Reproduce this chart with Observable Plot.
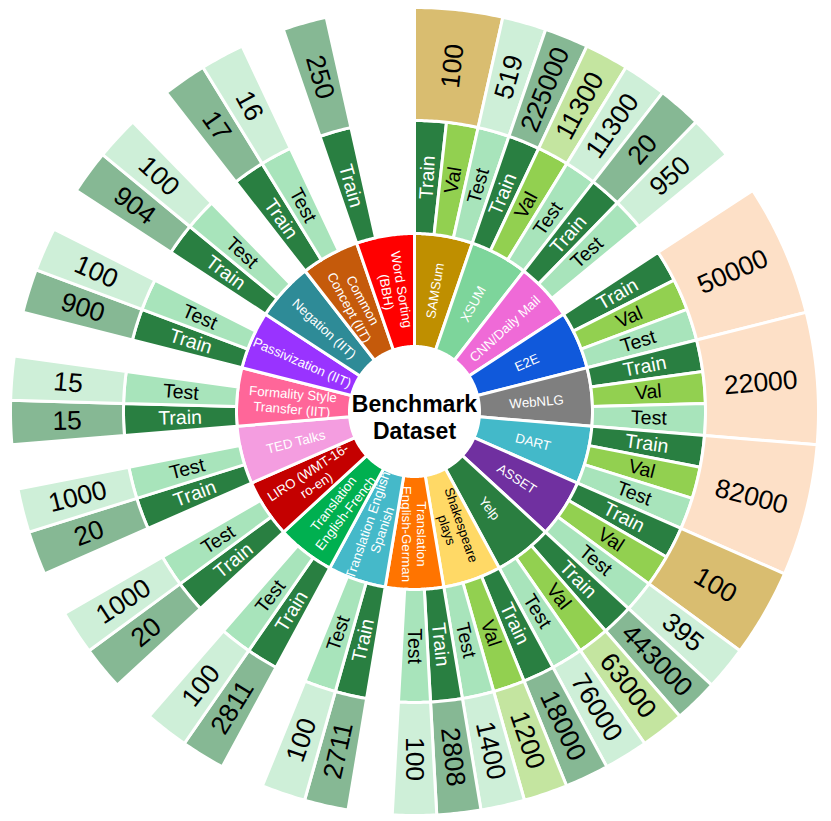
<!DOCTYPE html>
<html>
<head>
<meta charset="utf-8">
<script src="https://cdn.jsdelivr.net/npm/d3@7"></script>
<script src="https://cdn.jsdelivr.net/npm/@observablehq/plot@0.6"></script>
<style>
  html, body { margin: 0; padding: 0; background: #ffffff; }
  #chart svg { display: block; }
</style>
</head>
<body>
<div id="chart"></div>
<script>
// ---------------- data ----------------
const rootLabel = "Benchmark\nDataset";

const datasets = [
  "SAMSum", "XSUM", "CNN/Daily Mail", "E2E", "WebNLG", "DART", "ASSET", "Yelp",
  "Shakespeare plays", "Translation English-German", "Translation English Spanish",
  "Translation English-French", "LIRO (WMT-16-ro-en)", "TED Talks",
  "Formality Style Transfer (IIT)", "Passivization (IIT)", "Negation (IIT)",
  "Common Concept (IIT)", "Word Sorting (BBH)"
];

const datasetLabels = [
  "SAMSum", "XSUM", "CNN/Daily Mail", "E2E", "WebNLG", "DART", "ASSET", "Yelp",
  "Shakespeare\nplays", "Translation\nEnglish-German", "Translation English\nSpanish",
  "Translation\nEnglish-French", "LIRO (WMT-16-\nro-en)", "TED Talks",
  "Formality Style\nTransfer (IIT)", "Passivization (IIT)", "Negation (IIT)",
  "Common\nConcept (IIT)", "Word Sorting\n(BBH)"
];

const splits = [
  ["Train", "Val", "Test"], ["Train", "Val", "Test"], ["Train", "Test"],
  ["Train", "Val", "Test"], ["Train", "Val", "Test"], ["Train", "Val", "Test"],
  ["Train", "Val", "Test"], ["Train", "Val", "Test"], ["Train", "Val", "Test"],
  ["Train", "Test"], ["Train", "Test"], ["Train", "Test"], ["Train", "Test"],
  ["Train", "Test"], ["Train", "Test"], ["Train", "Test"], ["Train", "Test"],
  ["Train", "Test"], ["Train"]
];

const counts = [
  ["100", "519"], ["225000", "11300", "11300"], ["20", "950"],
  ["50000"], ["22000"], ["82000"], ["100", "395"],
  ["443000", "63000", "76000"], ["18000", "1200", "1400"],
  ["2808", "100"], ["2711", "100"], ["2811", "100"], ["20", "1000"],
  ["20", "1000"], ["15", "15"], ["900", "100"], ["904", "100"],
  ["17", "16"], ["250"]
];

// number of splits each count covers
const countSpans = [
  [2, 1], [1, 1, 1], [1, 1], [3], [3], [3], [2, 1], [1, 1, 1], [1, 1, 1],
  [1, 1], [1, 1], [1, 1], [1, 1], [1, 1], [1, 1], [1, 1], [1, 1], [1, 1], [1]
];

// ---------------- styles ----------------
const datasetColor = {
  "SAMSum": "#bf8f00", "XSUM": "#7dd59b", "CNN/Daily Mail": "#ef6ad7", "E2E": "#1059db",
  "WebNLG": "#7f7f7f", "DART": "#43b9c9", "ASSET": "#7030a0", "Yelp": "#2a7e40",
  "Shakespeare plays": "#ffd966", "Translation English-German": "#ff7400",
  "Translation English Spanish": "#45b9c9", "Translation English-French": "#00b050",
  "LIRO (WMT-16-ro-en)": "#c40000", "TED Talks": "#f49de0",
  "Formality Style Transfer (IIT)": "#ff6699", "Passivization (IIT)": "#9933ff",
  "Negation (IIT)": "#2e8b97", "Common Concept (IIT)": "#c55a0b", "Word Sorting (BBH)": "#ff0000"
};
const datasetTextColor = d => d === "Shakespeare plays" ? "black" : "white";
const splitColor = {Train: "#297f41", Val: "#92d050", Test: "#a8e4bb"};
const splitTextColor = {Train: "white", Val: "black", Test: "black"};
const countColor = {
  "Train": "#86b894", "Val": "#c4e5a0", "Test": "#ceefd8",
  "Train+Val": "#d9bd70", "Train+Val+Test": "#fde0c7"
};

const radii = [65, 178, 291, 404];
const FONT = "Liberation Sans, Arial, Helvetica, sans-serif";

// ---------------- geometry from data ----------------
const slotsPer = d3.max(splits, s => s.length);
const totalSlots = datasets.length * slotsPer;
const step = 360 / totalSlots;
const RAD = Math.PI / 180;
const pt = (r, a) => [r * Math.sin(a * RAD), -r * Math.cos(a * RAD)];

function sector(a0, a1, r0, r1) {
  const n = Math.max(2, Math.ceil((a1 - a0) / 0.5));
  const ring = [];
  for (let k = 0; k <= n; k++) ring.push(pt(r1, a0 + (a1 - a0) * k / n));
  for (let k = n; k >= 0; k--) ring.push(pt(r0, a0 + (a1 - a0) * k / n));
  ring.push(ring[0].slice());
  return ring;
}
function rotFor(a) {
  return a <= 180 + 1e-6 ? a - 90 : a - 270;
}

const features = [];
const innerText = [], midText = [], outerText = [];

datasets.forEach((ds, i) => {
  const a0 = i * slotsPer * step, a1 = (i + 1) * slotsPer * step;
  features.push({type: "Feature", properties: {fill: datasetColor[ds]},
    geometry: {type: "Polygon", coordinates: [sector(a0, a1, radii[0], radii[1])]}});
  const am = (a0 + a1) / 2, rm = (radii[0] + radii[1]) / 2 + 1;
  const [x, y] = pt(rm, am);
  innerText.push({x, y, text: datasetLabels[i], rot: rotFor(am), fill: datasetTextColor(ds)});

  splits[i].forEach((sp, j) => {
    const b0 = a0 + j * step, b1 = b0 + step;
    features.push({type: "Feature", properties: {fill: splitColor[sp]},
      geometry: {type: "Polygon", coordinates: [sector(b0, b1, radii[1], radii[2])]}});
    const bm = (b0 + b1) / 2, r2 = (radii[1] + radii[2]) / 2;
    const [mx, my] = pt(r2, bm);
    midText.push({x: mx, y: my, text: sp, rot: rotFor(bm), fill: splitTextColor[sp]});
  });

  let off = 0;
  counts[i].forEach((c, k) => {
    const span = countSpans[i][k];
    const key = splits[i].slice(off, off + span).join("+");
    const c0 = a0 + off * step, c1 = c0 + span * step;
    features.push({type: "Feature", properties: {fill: countColor[key]},
      geometry: {type: "Polygon", coordinates: [sector(c0, c1, radii[2], radii[3])]}});
    const cm = (c0 + c1) / 2, r3 = (radii[2] + radii[3]) / 2;
    const [ox, oy] = pt(r3, cm);
    outerText.push({x: ox, y: oy, text: c, rot: rotFor(cm)});
    off += span;
  });
});

const W = 831, H = 821, CX = 414, CY = 411;
const domain = {type: "Feature", geometry: {type: "MultiPoint",
  coordinates: [[-CX, -CY], [W - CX, H - CY]]}};
const [cx0, cy0] = pt(0, 0);

const chart = Plot.plot({
  width: W,
  height: H,
  margin: 0,
  style: {background: "white"},
  projection: {type: "identity", domain},
  color: {type: "identity"},
  marks: [
    Plot.geo(features, {fill: d => d.properties.fill, stroke: "white", strokeWidth: 3}),
    Plot.text(innerText, {x: "x", y: "y", text: "text", rotate: "rot", fill: "fill",
      fontSize: 13.3, fontFamily: FONT, textAnchor: "middle", lineAnchor: "middle", lineHeight: 1.15}),
    Plot.text(midText, {x: "x", y: "y", text: "text", rotate: "rot", fill: "fill",
      fontSize: 19.5, fontFamily: FONT, textAnchor: "middle", lineAnchor: "middle"}),
    Plot.text(outerText, {x: "x", y: "y", text: "text", rotate: "rot", fill: "black",
      fontSize: 26.5, fontFamily: FONT, textAnchor: "middle", lineAnchor: "middle"}),
    Plot.text([rootLabel], {x: () => cx0, y: () => cy0, text: d => d, fill: "black",
      fontSize: 23, fontWeight: "bold", fontFamily: FONT, textAnchor: "middle",
      lineAnchor: "middle", lineHeight: 1.2, dy: 5})
  ]
});
document.getElementById("chart").appendChild(chart);
</script>
</body>
</html>
